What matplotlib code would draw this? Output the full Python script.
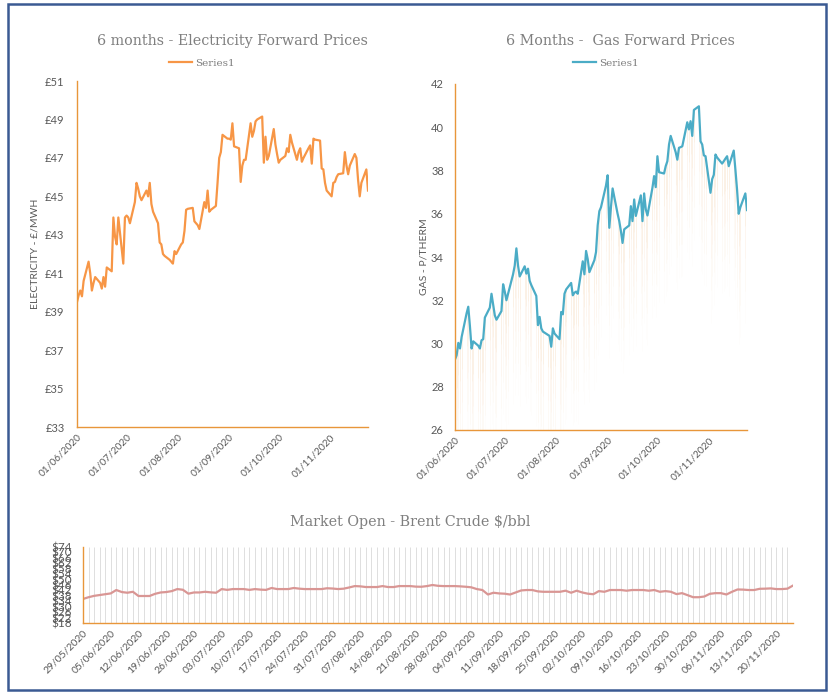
import matplotlib
matplotlib.use("Agg")
from matplotlib import pyplot as plt
from matplotlib.patches import Rectangle
import pandas as pd
import numpy as np

# ---- data ----
elec_dates = pd.bdate_range("2020-06-01", "2020-11-24")
elec_prices = [
    39.5, 39.85, 40.1, 39.8, 40.6,
    41.6, 41.0, 40.1, 40.5, 40.8,
    40.5, 40.2, 40.8, 40.3, 41.3,
    41.1, 43.9, 42.9, 42.5, 43.9,
    41.5, 43.9, 44.0, 43.9, 43.6,
    44.7, 45.7, 45.4, 45.0, 44.8,
    45.3, 45.0, 45.7, 44.6, 44.2,
    43.6, 42.6, 42.5, 42.0, 41.9,
    41.7, 41.6, 41.5, 42.15, 42.0,
    42.5, 42.6, 43.2, 44.3, 44.35,
    44.4, 43.7, 43.6, 43.5, 43.3,
    44.7, 44.4, 45.3, 44.2, 44.3,
    44.5, 45.7, 47.0, 47.3, 48.2,
    48.0, 48.0, 47.95, 48.8, 47.6,
    47.5, 45.75, 46.6, 46.9, 46.9,
    48.8, 48.1, 48.4, 48.9, 49.0,
    49.15, 46.75, 48.1, 46.9, 47.1,
    48.5, 47.7, 47.2, 46.75, 46.9,
    47.1, 47.5, 47.3, 48.2, 47.8,
    46.9, 47.3, 47.5, 46.8, 47.0,
    47.5, 47.65, 46.7, 48.0, 47.95,
    47.9, 46.45, 46.4, 45.7, 45.3,
    45.0, 45.7, 45.75, 46.0, 46.15,
    46.2, 47.3, 46.6, 46.15, 46.6,
    47.2, 47.0, 45.85, 45.0, 45.7,
    46.4, 45.3,
]

gas_dates = pd.bdate_range("2020-06-01", "2020-11-24")
gas_prices = [
    29.26, 29.46, 30.03, 29.77, 30.3,
    31.4, 31.7, 30.8, 29.77, 30.1,
    29.9, 29.77, 30.15, 30.2, 31.2,
    31.66, 32.3, 31.8, 31.3, 31.1,
    31.5, 32.74, 32.4, 32.0, 32.3,
    33.2, 33.6, 34.4, 33.6, 33.1,
    33.57, 33.23, 33.46, 32.9, 32.7,
    32.2, 30.85, 31.23, 30.7, 30.55,
    30.4, 30.35, 29.85, 30.7, 30.46,
    30.2, 31.46, 31.35, 32.3, 32.5,
    32.8, 32.23, 32.35, 32.4, 32.3,
    33.8, 33.2, 34.28, 33.9, 33.3,
    33.85, 34.23, 35.46, 36.12, 36.3,
    37.3, 37.78, 35.35, 36.3, 37.17,
    36.0, 35.66, 35.2, 34.65, 35.28,
    35.46, 36.35, 35.66, 36.66, 35.9,
    36.85, 35.66, 36.94, 36.2, 35.92,
    37.2, 37.74, 37.23, 38.66, 37.92,
    37.86, 38.2, 38.43, 39.2, 39.6,
    38.85, 38.5, 39.05, 39.08, 39.12,
    40.23, 39.9, 40.28, 39.6, 40.8,
    40.97, 39.35, 39.2, 38.7, 38.66,
    36.97, 37.6, 37.8, 38.74, 38.6,
    38.32, 38.43, 38.55, 38.66, 38.2,
    38.92, 38.05, 37.12, 36.0, 36.3,
    36.94, 36.17,
]

brent_dates = pd.bdate_range("2020-05-29", "2020-11-25")
brent_prices = [
    35.7,
    37.0, 38.0, 38.6, 39.2, 39.8,
    42.3, 40.8, 40.3, 41.0, 37.9,
    37.9, 37.9, 39.5, 40.5, 40.8,
    41.5, 43.0, 42.5, 39.6, 40.5,
    40.5, 41.0, 40.6, 40.3, 43.0,
    42.4, 43.0, 43.0, 43.0, 42.4,
    43.0, 42.6, 42.4, 43.8, 43.0,
    43.0, 43.0, 43.8, 43.3, 43.0,
    43.0, 43.0, 43.0, 43.6, 43.4,
    43.0, 43.3, 44.2, 45.2, 45.0,
    44.5, 44.5, 44.5, 45.2, 44.5,
    44.5, 45.2, 45.2, 45.2, 44.8,
    44.7, 45.2, 46.0, 45.4, 45.2,
    45.2, 45.2, 45.0, 44.7, 44.3,
    43.0, 42.3, 39.0, 40.3, 39.8,
    39.6, 39.0, 40.5, 42.0, 42.3,
    42.3, 41.3, 41.0, 41.0, 41.0,
    41.0, 41.8, 40.3, 41.8, 40.5,
    39.6, 39.2, 41.5, 41.0, 42.3,
    42.3, 42.3, 41.8, 42.3, 42.3,
    42.3, 41.8, 42.3, 41.0, 41.5,
    41.0, 39.3, 40.0, 38.5, 37.0,
    37.0, 37.5, 39.5, 40.0, 40.0,
    39.0, 41.0, 42.7, 42.6, 42.3,
    42.3, 43.2, 43.3, 43.5, 43.0,
    43.0, 43.3, 45.6,
]

elec_ticks = pd.date_range("2020-06-01", "2020-11-01", freq="MS")

# ---- style ----
ORANGE_AX = "#E8963A"
TXT = "#595959"
TITLE = "#7F7F7F"
SERIF = "DejaVu Serif"
SANS = "Lato"

fig = plt.figure(figsize=(8.33, 6.98), dpi=100)
fig.patches.append(Rectangle((8 / 833, 1 - 690 / 698), 818 / 833, 686 / 698,
                             transform=fig.transFigure, fill=False,
                             edgecolor="#3B5A93", linewidth=1.8))


def style_axes(ax, pad=6):
    for s in ["top", "right"]:
        ax.spines[s].set_visible(False)
    for s in ["left", "bottom"]:
        ax.spines[s].set_color(ORANGE_AX)
        ax.spines[s].set_linewidth(1.0)
    ax.tick_params(length=0, colors=TXT, labelsize=8, pad=pad)
    for lab in ax.get_xticklabels() + ax.get_yticklabels():
        lab.set_fontfamily(SANS)


def date_labels(ax, ticks, labels, fs=7.3):
    ax.set_xticks(ticks)
    ax.set_xticklabels(labels, rotation=45, ha="right", rotation_mode="anchor",
                       fontsize=fs, color=TXT, family=SANS)
    ax.tick_params(axis="x", pad=4)


# electricity
ax1 = fig.add_axes([77 / 833, 1 - 427 / 698, 291 / 833, 346 / 698])
ax1.plot(elec_dates, elec_prices, color="#F79646", lw=1.6, label="Series1")
ax1.set_ylim(33, 51)
ax1.set_yticks(np.arange(33, 52, 2))
ax1.set_yticklabels(["£%d" % v for v in np.arange(33, 52, 2)])
ax1.set_xlim(elec_dates[0], elec_dates[-1])
style_axes(ax1, pad=9)
date_labels(ax1, elec_ticks, [d.strftime("%d/%m/%Y") for d in elec_ticks])
ax1.set_ylabel("ELECTRICITY - £/MWH", color=TXT, fontsize=7.5, family=SANS, labelpad=4)
fig.text(232 / 833, 1 - 41 / 698, "6 months - Electricity Forward Prices",
         ha="center", va="center", color=TITLE, fontsize=10.3, family=SERIF)
leg1 = ax1.legend(loc="center", bbox_to_anchor=(202 / 833, 1 - 63 / 698),
                  bbox_transform=fig.transFigure, frameon=False, handlelength=2.2,
                  handletextpad=0.3, prop={"family": SERIF, "size": 7.5})
for t in leg1.get_texts():
    t.set_color(TITLE)

# gas
ax2 = fig.add_axes([455 / 833, 1 - 430 / 698, 292 / 833, 346 / 698])
gv = np.array(gas_prices)
fades = [(0.0, 1.5, 0.30), (1.5, 3.0, 0.18), (3.0, 4.5, 0.10), (4.5, 6.0, 0.04)]
for a, b, al in fades:
    ax2.vlines(gas_dates, gv - b, gv - a, color="#F2C9A0", lw=0.6, alpha=al)
ax2.plot(gas_dates, gas_prices, color="#4BACC6", lw=1.6, label="Series1")
ax2.set_ylim(26, 42)
ax2.set_yticks(np.arange(26, 43, 2))
ax2.set_xlim(gas_dates[0], gas_dates[-1])
style_axes(ax2, pad=8)
date_labels(ax2, elec_ticks, [d.strftime("%d/%m/%Y") for d in elec_ticks])
ax2.set_ylabel("GAS - P/THERM", color=TXT, fontsize=7.5, family=SANS, labelpad=2)
fig.text(620 / 833, 1 - 41 / 698, "6 Months -  Gas Forward Prices",
         ha="center", va="center", color=TITLE, fontsize=10.3, family=SERIF)
leg2 = ax2.legend(loc="center", bbox_to_anchor=(606 / 833, 1 - 63 / 698),
                  bbox_transform=fig.transFigure, frameon=False, handlelength=2.2,
                  handletextpad=0.3, prop={"family": SERIF, "size": 7.5})
for t in leg2.get_texts():
    t.set_color(TITLE)

# brent (category axis: one slot per trading day, label every 5th)
ax3 = fig.add_axes([83 / 833, 1 - 623 / 698, 710 / 833, 76 / 698])
bx = np.arange(len(brent_prices))
ax3.vlines(bx, 18, 74, color="#D9D9D9", lw=0.6)
ax3.plot(bx, brent_prices, color="#D99694", lw=1.6)
ax3.set_ylim(18, 74)
ax3.set_yticks(np.arange(18, 75, 4))
ax3.set_yticklabels(["$%d" % v for v in np.arange(18, 75, 4)])
ax3.set_xlim(0, len(brent_prices) - 1)
style_axes(ax3, pad=8)
ax3.tick_params(axis="y", labelsize=8.5)
date_labels(ax3, bx[::5], [brent_dates[i].strftime("%d/%m/%Y") for i in bx[::5]], fs=7.5)
fig.text(410 / 833, 1 - 522 / 698, "Market Open - Brent Crude $/bbl",
         ha="center", va="center", color=TITLE, fontsize=10.3, family=SERIF)

fig.savefig("out.png", dpi=100)
